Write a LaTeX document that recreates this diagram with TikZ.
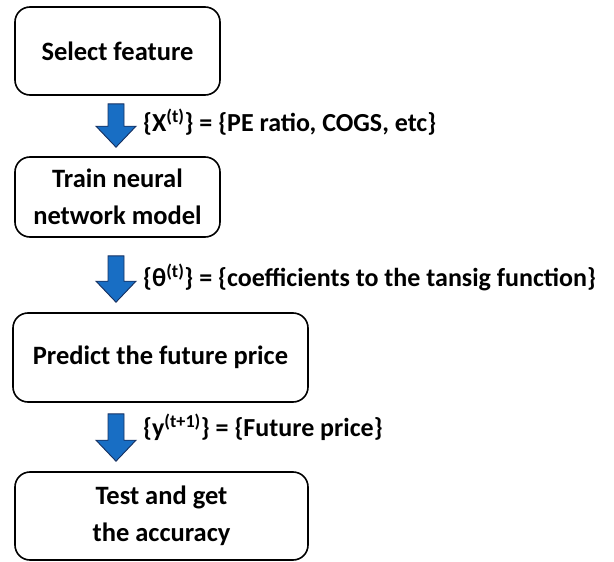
\documentclass[tikz,border=0pt]{standalone}
\usepackage{fontspec}
\setmainfont{Carlito}
\usetikzlibrary{calc}
\definecolor{arrowblue}{RGB}{24,110,196}
\definecolor{arrowedge}{RGB}{22,48,96}

\begin{document}
\begin{tikzpicture}[x=1pt,y=-1pt,
    stepbox/.style={draw=black, line width=1.6pt, rounded corners=15pt, align=center,
        font=\bfseries\fontsize{26.5}{37}\selectfont, inner sep=0pt},
    flowlabel/.style={anchor=west, inner sep=0pt, font=\bfseries\fontsize{26}{30}\selectfont},
    blockarrow/.style={fill=arrowblue, draw=arrowedge, line width=0.9pt, line join=miter,
        to path={($(\tikztostart)+(-8,0)$) -- ($(\tikztotarget)+(-8,-21)$)
            -- ($(\tikztotarget)+(-20,-21)$) -- (\tikztotarget)
            -- ($(\tikztotarget)+(20,-21)$) -- ($(\tikztotarget)+(8,-21)$)
            -- ($(\tikztostart)+(8,0)$) -- cycle}}]
    \useasboundingbox (0,0) rectangle (614,562);
    \node [stepbox, minimum width=205, minimum height=88] (sel) at (117.5,51) {Select feature};
    \node [stepbox, minimum width=205, minimum height=80] (train) at (117.5,197) {Train neural\\network model};
    \node [stepbox, minimum width=295, minimum height=89] (pred) at (160.5,357.5) {Predict the future price};
    \node [stepbox, minimum width=293, minimum height=88] (test) at (161.5,516) {Test and get\\the accuracy};
    \coordinate (a1top) at ($(sel.south)+(-1.5,8)$);
    \coordinate (a1tip) at ($(sel.south |- train.north)+(-1.5,-9)$);
    \coordinate (a2top) at ($(train.south)+(-1.5,18)$);
    \coordinate (a2tip) at ($(train.south |- pred.north)+(-1.5,-10)$);
    \coordinate (a3top) at ($(train.south |- pred.south)+(-1.5,11)$);
    \coordinate (a3tip) at ($(train.south |- test.north)+(-1.5,-10)$);
    \draw [blockarrow] (a1top) to (a1tip);
    \draw [blockarrow] (a2top) to (a2tip);
    \draw [blockarrow] (a3top) to (a3tip);
    \node [flowlabel] (lab1) at (143,122) {\{X\textsuperscript{(t)}\} = \{PE ratio, COGS, etc\}};
    \node [flowlabel] (lab2) at (143,277) {\{θ\textsuperscript{(t)}\} = \{coefficients to the tansig function\}};
    \node [flowlabel] (lab3) at (143,427) {\{y\textsuperscript{(t+1)}\} = \{Future price\}};
\end{tikzpicture}
\end{document}
